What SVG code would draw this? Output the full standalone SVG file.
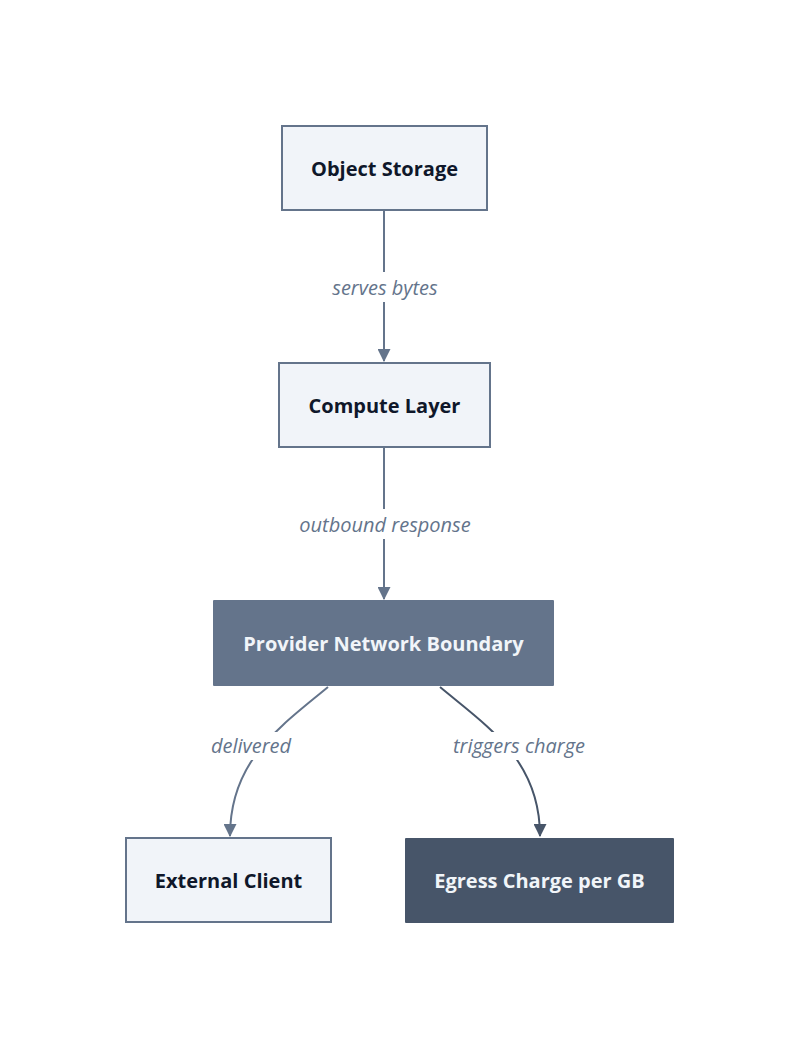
<svg xmlns="http://www.w3.org/2000/svg" width="800" height="1050" viewBox="0 0 800 1050">
  <style>
    .node-light { fill: #f1f4f9; stroke: #64748b; stroke-width: 2; }
    .node-mid { fill: #64748b; }
    .node-dark { fill: #475569; }
    .label-dark { font-family: "Open Sans", "Liberation Sans", sans-serif; font-size: 20px; font-weight: 700; fill: #0f172a; text-anchor: middle; dominant-baseline: central; }
    .label-light { font-family: "Open Sans", "Liberation Sans", sans-serif; font-size: 20px; font-weight: 700; fill: #f1f5f9; text-anchor: middle; dominant-baseline: central; }
    .edge { fill: none; stroke: #64748b; stroke-width: 2; }
    .edge-dark { fill: none; stroke: #475569; stroke-width: 2; }
    .edge-label { font-family: "Open Sans", "Liberation Sans", sans-serif; font-size: 20px; font-style: italic; fill: #64748b; text-anchor: middle; dominant-baseline: central; }
    .edge-label-bg { fill: #ffffff; }
  </style>
  <defs>
    <marker id="arrow" viewBox="0 0 12 12" refX="11" refY="6" markerWidth="13" markerHeight="13" markerUnits="userSpaceOnUse" orient="auto">
      <path d="M0,0 L12,6 L0,12 Z" fill="#64748b"/>
    </marker>
    <marker id="arrow-dark" viewBox="0 0 12 12" refX="11" refY="6" markerWidth="13" markerHeight="13" markerUnits="userSpaceOnUse" orient="auto">
      <path d="M0,0 L12,6 L0,12 Z" fill="#475569"/>
    </marker>
  </defs>

  <rect width="800" height="1050" fill="#ffffff"/>

  <g id="connectors">
    <path class="edge" d="M384,211 L384,361" marker-end="url(#arrow)"/>
    <path class="edge" d="M384,448 L384,599" marker-end="url(#arrow)"/>
    <path class="edge" d="M328,687 C280,727 230,760 230,836" marker-end="url(#arrow)"/>
    <path class="edge-dark" d="M440,687 C488,727 540,760 540,836" marker-end="url(#arrow-dark)"/>

    <rect class="edge-label-bg" x="326" y="272" width="118" height="30"/>
    <text class="edge-label" x="385" y="287">serves bytes</text>
    <rect class="edge-label-bg" x="292" y="509" width="186" height="30"/>
    <text class="edge-label" x="385" y="524">outbound response</text>
    <rect class="edge-label-bg" x="204" y="732" width="94" height="28"/>
    <text class="edge-label" x="251" y="745">delivered</text>
    <rect class="edge-label-bg" x="446" y="732" width="146" height="28"/>
    <text class="edge-label" x="519" y="745">triggers charge</text>
  </g>

  <g id="object-storage">
    <rect class="node-light" x="282" y="126" width="205" height="84"/>
    <text class="label-dark" x="384.5" y="168">Object Storage</text>
  </g>

  <g id="compute-layer">
    <rect class="node-light" x="279" y="363" width="211" height="84"/>
    <text class="label-dark" x="384.5" y="405">Compute Layer</text>
  </g>

  <g id="provider-network-boundary">
    <rect class="node-mid" x="213" y="600" width="341" height="86" rx="1"/>
    <text class="label-light" x="383.5" y="643">Provider Network Boundary</text>
  </g>

  <g id="external-client">
    <rect class="node-light" x="126" y="838" width="205" height="84"/>
    <text class="label-dark" x="228.5" y="880">External Client</text>
  </g>

  <g id="egress-charge">
    <rect class="node-dark" x="405" y="838" width="269" height="85" rx="1"/>
    <text class="label-light" x="539.5" y="880">Egress Charge per GB</text>
  </g>
</svg>
